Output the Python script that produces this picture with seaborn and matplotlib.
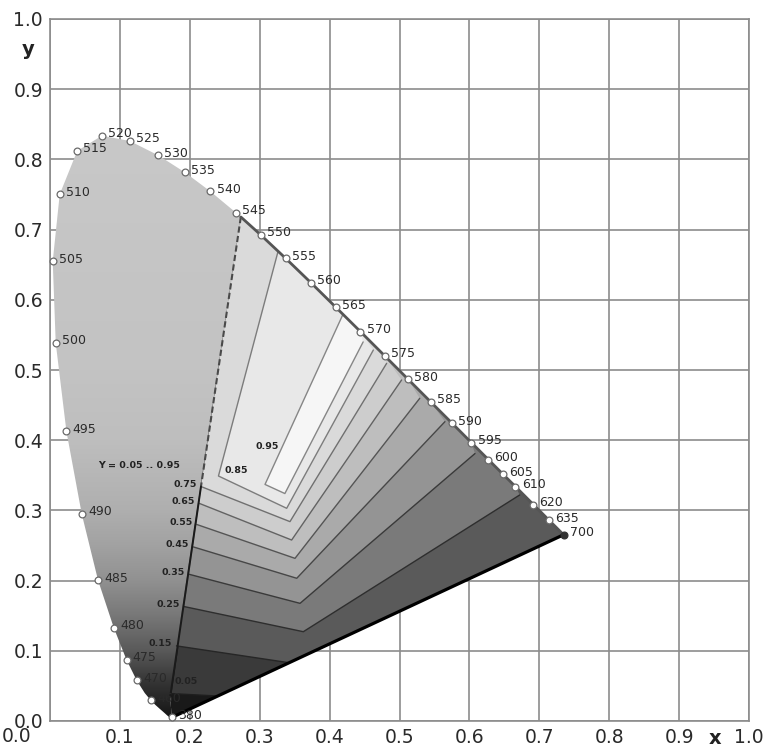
import matplotlib
matplotlib.use('Agg')
import matplotlib.pyplot as plt
from matplotlib.patches import Polygon
from matplotlib.colors import LinearSegmentedColormap
import numpy as np
import pandas as pd
import seaborn as sns

sns.set_theme(style='white')
plt.rcParams['font.family'] = ['DejaVu Sans']

# CIE 1931 spectral locus (5 nm)
wavelength = [380, 385, 390, 395, 400, 405, 410, 415, 420, 425, 430, 435, 440,
              445, 450, 455, 460, 465, 470, 475, 480, 485, 490, 495, 500, 505,
              510, 515, 520, 525, 530, 535, 540, 545, 550, 555, 560, 565, 570,
              575, 580, 585, 590, 595, 600, 605, 610, 615, 620, 625, 630, 635,
              640, 645, 650, 655, 660, 665, 670, 675, 680, 685, 690, 695, 700]
locus_x = [0.1741, 0.1740, 0.1738, 0.1736, 0.1733, 0.1730, 0.1726, 0.1721, 0.1714,
           0.1703, 0.1689, 0.1669, 0.1644, 0.1611, 0.1566, 0.1510, 0.1440, 0.1355,
           0.1241, 0.1096, 0.0913, 0.0687, 0.0454, 0.0235, 0.0082, 0.0039, 0.0139,
           0.0389, 0.0743, 0.1142, 0.1547, 0.1929, 0.2296, 0.2658, 0.3016, 0.3373,
           0.3731, 0.4087, 0.4441, 0.4788, 0.5125, 0.5448, 0.5752, 0.6029, 0.6270,
           0.6482, 0.6658, 0.6801, 0.6915, 0.7006, 0.7079, 0.7140, 0.7190, 0.7230,
           0.7260, 0.7283, 0.7300, 0.7311, 0.7320, 0.7327, 0.7334, 0.7340, 0.7344,
           0.7346, 0.7347]
locus_y = [0.0050, 0.0050, 0.0049, 0.0049, 0.0048, 0.0048, 0.0048, 0.0048, 0.0051,
           0.0058, 0.0069, 0.0086, 0.0109, 0.0138, 0.0177, 0.0227, 0.0297, 0.0399,
           0.0578, 0.0868, 0.1327, 0.2007, 0.2950, 0.4127, 0.5384, 0.6548, 0.7502,
           0.8120, 0.8338, 0.8262, 0.8059, 0.7816, 0.7543, 0.7243, 0.6923, 0.6589,
           0.6245, 0.5896, 0.5547, 0.5202, 0.4866, 0.4544, 0.4242, 0.3965, 0.3725,
           0.3514, 0.3340, 0.3197, 0.3083, 0.2993, 0.2920, 0.2859, 0.2809, 0.2770,
           0.2740, 0.2717, 0.2700, 0.2689, 0.2680, 0.2673, 0.2666, 0.2660, 0.2656,
           0.2654, 0.2653]

marked_wl = [380, 460, 470, 475, 480, 485, 490, 495, 500, 505, 510, 515, 520, 525,
             530, 535, 540, 545, 550, 555, 560, 565, 570, 575, 580, 585, 590, 595,
             600, 605, 610, 620, 635, 700]

# luminance contours Y = 0.05 .. 0.95
levels = [0.05, 0.15, 0.25, 0.35, 0.45, 0.55, 0.65, 0.75, 0.85, 0.95]
contour_x = [
    [0.174, 0.240],
    [0.181, 0.342],
    [0.192, 0.3624, 0.672],
    [0.199, 0.3577, 0.608],
    [0.205, 0.353, 0.565],
    [0.2098, 0.3505, 0.529],
    [0.2136, 0.3457, 0.503],
    [0.216, 0.3433, 0.4816],
    [0.326, 0.241, 0.3386, 0.4626],
    [0.419, 0.3076, 0.336, 0.448],
]
contour_y = [
    [0.039, 0.0356],
    [0.107, 0.083],
    [0.163, 0.1272, 0.322],
    [0.209, 0.1676, 0.381],
    [0.248, 0.2033, 0.4264],
    [0.280, 0.2317, 0.4597],
    [0.310, 0.2578, 0.4858],
    [0.334, 0.284, 0.5095],
    [0.668, 0.349, 0.303, 0.5285],
    [0.579, 0.337, 0.324, 0.540],
]
line_grey = ['#1e1e1e', '#262626', '#2e2e2e', '#3a3a3a', '#474747',
             '#555555', '#636363', '#707070', '#7c7c7c', '#868686']
band_grey = [58, 90, 122, 148, 170, 190, 205, 218, 232, 246]
base_grey = 25

# separating line (dashed above, solid below)
sep_x = [0.273, 0.216, 0.172]
sep_y = [0.718, 0.334, 0.035]

# vertical shading of the left part
grad_y = [0.0, 0.05, 0.1, 0.15, 0.2, 0.25, 0.3, 0.4, 0.5, 0.85]
grad_grey = [20, 50, 90, 120, 145, 162, 175, 190, 195, 200]

locus = pd.DataFrame({'wl': wavelength, 'x': locus_x, 'y': locus_y})

fig = plt.figure(figsize=(7.66, 7.51), dpi=100)
ax = fig.add_axes([50 / 766, 30 / 751, 699 / 766, 702 / 751])

left = locus[locus.wl <= 545]
right = locus[locus.wl >= 550]
rx = right.x.values
ry = right.y.values
top = (sep_x[0], sep_y[0])
bottom = (sep_x[-1], sep_y[-1])
red_end = (locus_x[-1], locus_y[-1])

# left part: gradient clipped to region
left_patch = Polygon(list(zip(left.x, left.y)) + [top, bottom], closed=True,
                     fc='none', ec='none')
ax.add_patch(left_patch)
cmap = LinearSegmentedColormap.from_list(
    'lum', [(yy / grad_y[-1], str(g / 255)) for yy, g in zip(grad_y, grad_grey)])
ramp = np.linspace(0, 1, 256)[:, None]
im = ax.imshow(ramp, cmap=cmap, origin='lower', extent=(0, 0.3, 0, grad_y[-1]),
               aspect='auto', zorder=1, interpolation='bilinear')
im.set_clip_path(left_patch)

# right part: darkest base, then stacked bands above each level
base = [top] + list(zip(rx, ry)) + [(locus_x[0], locus_y[0]), bottom]
ax.add_patch(Polygon(base, closed=True, fc=str(base_grey / 255), ec='none', zorder=1))
for lev, cx, cy, g in zip(levels, contour_x, contour_y, band_grey):
    pts = list(zip(cx, cy))
    if lev >= 0.85:
        sel = (rx > cx[0]) & (rx < cx[-1])
        pts += list(zip(rx[sel][::-1], ry[sel][::-1]))
    elif lev <= 0.15:
        pts += [red_end] + list(zip(rx[::-1], ry[::-1])) + [top]
    else:
        sel = rx < cx[-1]
        pts += list(zip(rx[sel][::-1], ry[sel][::-1])) + [top]
    ax.add_patch(Polygon(pts, closed=True, fc=str(g / 255), ec='none', zorder=1))

for cx, cy, c in zip(contour_x, contour_y, line_grey):
    ax.plot(cx, cy, color=c, lw=1.0, zorder=2)

# separating line
ax.plot(sep_x[:2], sep_y[:2], color='#4a4a4a', lw=1.5, ls=(0, (3, 1.6)), zorder=3)
ax.plot(sep_x[1:], sep_y[1:], color='#1a1a1a', lw=1.4, zorder=3)

# outline of the right part of the locus and purple line
edge = pd.DataFrame({'x': [top[0]] + list(rx), 'y': [top[1]] + list(ry)})
sns.lineplot(data=edge, x='x', y='y', sort=False, estimator=None, color='#555555',
             lw=2.0, ax=ax, zorder=3)
ax.plot([locus_x[0], locus_x[-1]], [locus_y[0], locus_y[-1]], color='black',
        lw=2.3, zorder=3, solid_capstyle='round')

# wavelength markers
mk = locus[locus.wl.isin(marked_wl)]
sns.scatterplot(data=mk[mk.wl < 700], x='x', y='y', s=24, color='white',
                edgecolor='#6a6a6a', linewidth=0.9, ax=ax, zorder=4, clip_on=False)
sns.scatterplot(data=mk[mk.wl == 700], x='x', y='y', s=24, color='#333333',
                edgecolor='#333333', linewidth=0.9, ax=ax, zorder=4)
for w, x, y in zip(mk.wl, mk.x, mk.y):
    ax.annotate(str(w), (x, y), xytext=(4.5, 1.5), textcoords='offset points',
                fontsize=9, ha='left', va='center', color='#2a2a2a', zorder=5)

# contour labels
for lev, cx, cy in zip(levels, contour_x, contour_y):
    if 0.15 <= lev <= 0.75:
        ax.text(cx[0] - 0.006, cy[0] + 0.003, f'{lev:.2f}', fontsize=6.8,
                fontweight='bold', ha='right', va='center', color='#222222', zorder=5)
ax.text(0.178, 0.056, '0.05', fontsize=6.8, fontweight='bold', ha='left',
        va='center', color='#222222', zorder=5)
ax.text(0.266, 0.357, '0.85', fontsize=6.8, fontweight='bold', ha='center',
        va='center', color='#222222', zorder=5)
ax.text(0.31, 0.391, '0.95', fontsize=6.8, fontweight='bold', ha='center',
        va='center', color='#222222', zorder=5)
ax.text(0.127, 0.364, 'Y = 0.05 .. 0.95', fontsize=6.8, fontweight='bold',
        ha='center', va='center', color='#222222', zorder=5)

# axes
ticks = np.round(np.arange(0, 1.01, 0.1), 1)
ax.set_xticks(ticks)
ax.set_yticks(ticks)
ax.set_xticklabels([''] + [f'{t:.1f}' for t in ticks[1:]])
ax.set_yticklabels([f'{t:.1f}' for t in ticks])
ax.set_xlim(0, 1)
ax.set_ylim(0, 1)
ax.set_xlabel('')
ax.set_ylabel('')
ax.grid(True, color='#8c8c8c', lw=1.2)
ax.set_axisbelow(True)
for s in ax.spines.values():
    s.set_color('#8c8c8c')
    s.set_linewidth(1.2)
ax.tick_params(length=0, labelsize=13.5, labelcolor='#2a2a2a', pad=5)
# x-axis "0.0" sits left of the corner, below the y-axis "0.0"
ax.text(-0.048, -0.030, '0.0', transform=ax.transAxes, ha='center', va='baseline',
        fontsize=13.5, color='#2a2a2a')
ax.text(-0.0315, 0.956, 'y', transform=ax.transAxes, ha='center', va='center',
        fontsize=14, fontweight='bold', color='#222222')
ax.text(0.951, -0.0256, 'x', transform=ax.transAxes, ha='center', va='center',
        fontsize=14, fontweight='bold', color='#222222')

fig.savefig('out.png', dpi=100, facecolor='white')
